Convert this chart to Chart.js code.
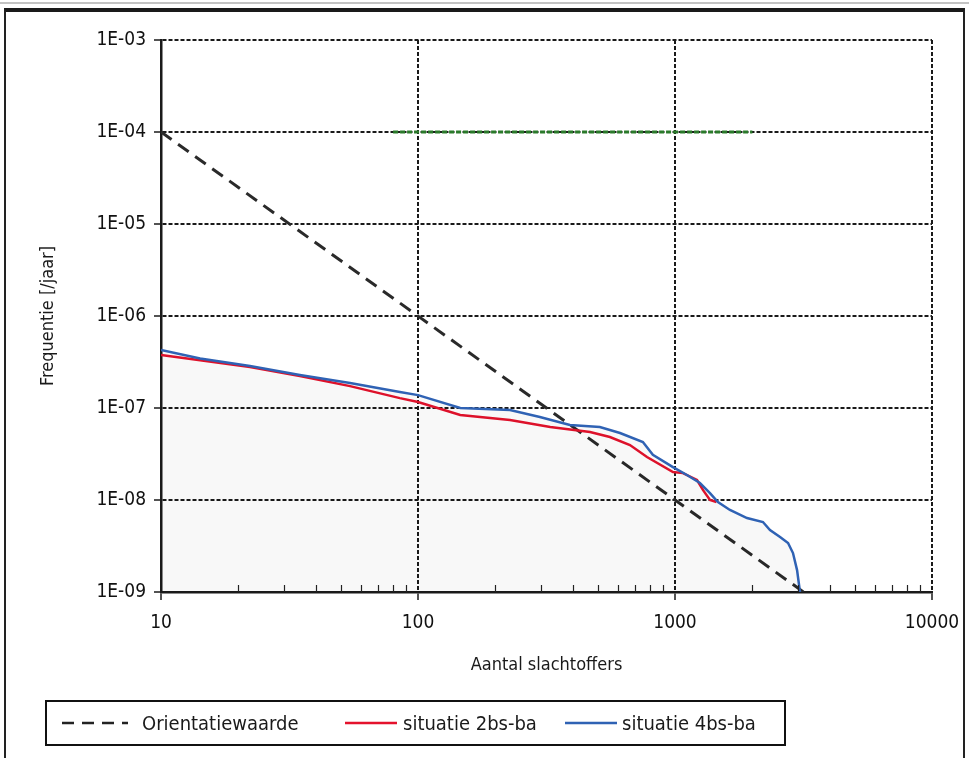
<!DOCTYPE html>
<html>
<head>
<meta charset="utf-8">
<script src="https://cdn.jsdelivr.net/npm/chart.js@4.4.1/dist/chart.umd.min.js"></script>
<style>
  html,body{margin:0;padding:0;background:#fff;}
  #wrap{position:relative;width:969px;height:758px;overflow:hidden;background:#fff;}
  #frame{position:absolute;left:4px;top:8px;width:957px;height:800px;border:2px solid #222;border-top:4px solid #1a1a1a;}
  #topband{position:absolute;left:0;top:2px;width:969px;height:2px;background:#888;opacity:0.5;}
  canvas{position:absolute;left:0;top:0;}
  #legend{position:absolute;left:45px;top:700px;width:737px;height:42px;border:2px solid #111;
    font-family:"DejaVu Sans Condensed","Liberation Sans Narrow",sans-serif;font-size:20px;color:#1a1a1a;}
  .item{position:absolute;top:0;height:42px;line-height:42px;white-space:nowrap;}
  .sample{position:absolute;top:18px;}
</style>
</head>
<body>
<div id="wrap">
  <div id="topband"></div>
  <div id="frame"></div>
  <canvas id="c" width="969" height="758"></canvas>
  <div id="legend">
    <svg class="sample" style="left:15px;" width="66" height="6"><line x1="0" y1="3" x2="66" y2="3" stroke="#222" stroke-width="2.5" stroke-dasharray="12,8"/></svg>
    <div class="item" style="left:95px;">Orientatiewaarde</div>
    <svg class="sample" style="left:298px;" width="52" height="6"><line x1="0" y1="3" x2="52" y2="3" stroke="#e4122c" stroke-width="2.5"/></svg>
    <div class="item" style="left:356px;">situatie 2bs-ba</div>
    <svg class="sample" style="left:518px;" width="52" height="6"><line x1="0" y1="3" x2="52" y2="3" stroke="#2f62b4" stroke-width="2.5"/></svg>
    <div class="item" style="left:575px;">situatie 4bs-ba</div>
  </div>
</div>
<script>
// ---- data ----
const xTickValues = [10,20,30,40,50,60,70,80,90,100,200,300,400,500,600,700,800,900,1000,2000,3000,4000,5000,6000,7000,8000,9000,10000];
const yTickValues = [1e-9,1e-8,1e-7,1e-6,1e-5,1e-4,1e-3];

const orientN = [10, 3162];
const orientF = [1e-4, 1e-9];

const greenN = [80, 2000];
const greenF = [1e-4, 1e-4];

const n4bs = [10, 14.2, 22.2, 34.7, 54.4, 85, 100, 146, 228, 298, 390, 510, 611, 750, 820, 982, 1113, 1250, 1368, 1469, 1636, 1906, 2199, 2342, 2563, 2754, 2878, 2985, 3064];
const f4bs = [4.27e-7, 3.45e-7, 2.86e-7, 2.29e-7, 1.87e-7, 1.49e-7, 1.38e-7, 1.0e-7, 9.5e-8, 7.98e-8, 6.53e-8, 6.2e-8, 5.35e-8, 4.27e-8, 3.1e-8, 2.28e-8, 1.87e-8, 1.53e-8, 1.19e-8, 9.5e-9, 7.8e-9, 6.37e-9, 5.76e-9, 4.72e-9, 3.96e-9, 3.41e-9, 2.65e-9, 1.73e-9, 1.0e-9];

const n2bs = [10, 14.2, 22.2, 34.7, 54.4, 85, 100, 146, 228, 327, 467, 558, 668, 778, 982, 1074, 1218, 1286, 1368, 1450];
const f2bs = [3.77e-7, 3.3e-7, 2.79e-7, 2.23e-7, 1.73e-7, 1.28e-7, 1.16e-7, 8.4e-8, 7.4e-8, 6.2e-8, 5.48e-8, 4.84e-8, 3.96e-8, 2.93e-8, 2.01e-8, 1.96e-8, 1.65e-8, 1.28e-8, 1.0e-8, 9.5e-9];

const pts = (xs, ys) => xs.map((x, i) => ({x: x, y: ys[i]}));
const isDecade = v => Math.abs(Math.log10(v) - Math.round(Math.log10(v))) < 1e-9;

const FONT = '"DejaVu Sans Condensed","Liberation Sans Narrow",sans-serif';

const minorTicks = {
  id: 'minorTicks',
  afterDatasetsDraw(chart) {
    const xs = chart.scales.x, ctx = chart.ctx;
    const yb = chart.chartArea.bottom;
    ctx.save();
    ctx.strokeStyle = '#222';
    ctx.lineWidth = 1.2;
    xTickValues.forEach(v => {
      if (isDecade(v)) return;
      const px = Math.round(xs.getPixelForValue(v)) + 0.5;
      ctx.beginPath();
      ctx.moveTo(px, yb);
      ctx.lineTo(px, yb - 7);
      ctx.stroke();
    });
    ctx.restore();
  }
};

new Chart(document.getElementById('c'), {
  type: 'line',
  data: {
    datasets: [
      {
        label: 'situatie 4bs-ba',
        data: pts(n4bs, f4bs),
        borderColor: '#2f62b4',
        backgroundColor: 'rgba(0,0,0,0.028)',
        fill: 'start',
        borderWidth: 2.5,
        pointRadius: 0,
        tension: 0
      },
      {
        label: 'situatie 2bs-ba',
        data: pts(n2bs, f2bs),
        borderColor: '#e4122c',
        borderWidth: 2.5,
        pointRadius: 0,
        tension: 0,
        fill: false
      },
      {
        label: 'Orientatiewaarde',
        data: pts(orientN, orientF),
        borderColor: '#2a2a2a',
        borderDash: [13, 8],
        borderWidth: 3,
        pointRadius: 0,
        fill: false
      },
      {
        label: 'limiet',
        data: pts(greenN, greenF),
        borderColor: '#2a7a2a',
        borderDash: [5, 2],
        borderWidth: 3,
        pointRadius: 0,
        fill: false
      }
    ]
  },
  options: {
    responsive: false,
    animation: false,
    layout: { padding: { left: 38, top: 40, right: 37, bottom: 82 } },
    plugins: { legend: { display: false }, tooltip: { enabled: false } },
    scales: {
      x: {
        type: 'logarithmic',
        min: 10, max: 10000,
        afterBuildTicks: s => { s.ticks = xTickValues.map(v => ({value: v})); },
        afterFit: s => { s.height = 84; s.paddingLeft = 0; s.paddingRight = 0; },
        ticks: {
          autoSkip: false, maxRotation: 0, padding: 12,
          color: '#111',
          font: { family: FONT, size: 19 },
          callback: v => isDecade(v) ? String(Math.round(v)) : ''
        },
        grid: {
          color: ctx => isDecade(ctx.tick.value) ? '#1a1a1a' : 'rgba(0,0,0,0)',
          lineWidth: 2,
          tickColor: ctx => isDecade(ctx.tick.value) ? '#1a1a1a' : 'rgba(0,0,0,0)',
          tickLength: 8,
          tickWidth: 1.5
        },
        border: { display: true, color: '#1a1a1a', width: 2.5, dash: [4, 2] },
        title: {
          display: true, text: 'Aantal slachtoffers', color: '#1a1a1a',
          font: { family: FONT, size: 18 }, padding: 0
        }
      },
      y: {
        type: 'logarithmic',
        min: 1e-9, max: 1e-3,
        afterBuildTicks: s => { s.ticks = yTickValues.map(v => ({value: v})); },
        afterFit: s => { s.width = 123; s.paddingTop = 0; s.paddingBottom = 0; },
        ticks: {
          autoSkip: false, padding: 8,
          color: '#111',
          font: { family: FONT, size: 19 },
          callback: v => {
            const e = Math.round(Math.log10(v));
            const a = Math.abs(e);
            return '1E' + (e < 0 ? '-' : '+') + (a < 10 ? '0' + a : a);
          }
        },
        grid: {
          color: '#1a1a1a',
          lineWidth: 2,
          tickColor: '#1a1a1a',
          tickLength: 7,
          tickWidth: 1.5
        },
        border: { display: true, color: '#1a1a1a', width: 2.5, dash: [4, 2] },
        title: {
          display: true, text: 'Frequentie [/jaar]', color: '#1a1a1a',
          font: { family: FONT, size: 18 }, padding: 0
        }
      }
    }
  },
  plugins: [minorTicks]
});
</script>
</body>
</html>
